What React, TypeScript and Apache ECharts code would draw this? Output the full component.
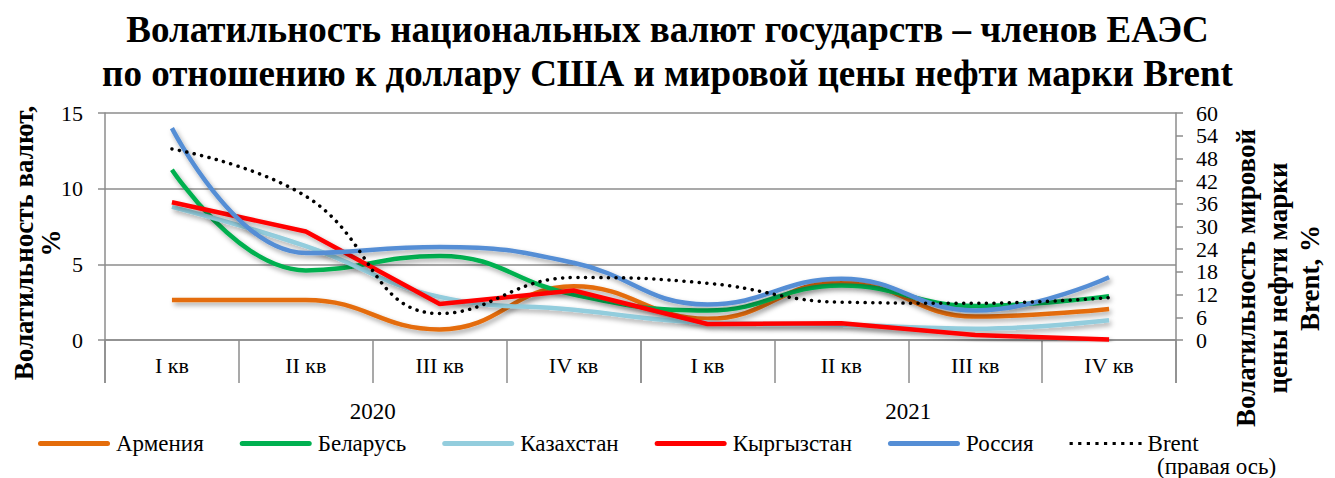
import React, { useEffect, useRef } from "react";
import * as echarts from "echarts";

const quarters = ["I кв", "II кв", "III кв", "IV кв", "I кв", "II кв", "III кв", "IV кв"];
const years = ["2020", "2021"];

const armenia = [2.65, 2.65, 0.7, 3.55, 1.4, 3.85, 1.55, 2.05];
const belarus = [11.25, 4.6, 5.55, 3.0, 1.95, 3.6, 2.25, 2.9];
const kazakhstan = [8.8, 6.2, 2.85, 2.0, 1.15, 1.0, 0.75, 1.3];
const kyrgyzstan = [9.1, 7.17, 2.38, 3.27, 1.06, 1.1, 0.33, 0.04];
const russia = [14.0, 5.75, 6.15, 5.1, 2.35, 4.05, 1.95, 4.15];
const brent = [50.5, 38, 7, 16.5, 15, 10, 9.7, 11.2];

const leftTicks = { min: 0, max: 15, interval: 5 };
const rightTicks = { min: 0, max: 60, interval: 6 };

const FONT = "Liberation Serif";
const GRAY = "#8c8c8c";

const COLORS = {
  armenia: "#E46C0A",
  belarus: "#00B050",
  kazakhstan: "#93CDDD",
  kyrgyzstan: "#FF0000",
  russia: "#558ED5",
  brent: "#000000",
};

const BAR_ICON = "path://M2.5,0H69.5A2.5,2.5 0 0 1 69.5,5H2.5A2.5,2.5 0 0 1 2.5,0Z";
const DOT_ICON =
  "path://" +
  Array.from({ length: 9 }, (_, i) => {
    const cx = 1.6 + i * 8.6;
    return `M${(cx - 1.6).toFixed(2)},0H${(cx + 1.6).toFixed(2)}V3.2H${(cx - 1.6).toFixed(2)}Z`;
  }).join("");

export default function App() {
  const ref = useRef<HTMLDivElement>(null);
  useEffect(() => {
    if (!ref.current) return;
    const chart = echarts.init(ref.current, undefined, { renderer: "svg" });
    const shadow = {
      shadowColor: "rgba(0,0,0,0.35)",
      shadowBlur: 5,
      shadowOffsetX: 2,
      shadowOffsetY: 3,
    };
    const mk = (name: string, data: number[], color: string, smooth: boolean | number) => ({
      name,
      type: "line",
      data,
      xAxisIndex: 0,
      yAxisIndex: 0,
      smooth,
      symbol: "none",
      lineStyle: { color, width: 4.5, ...shadow },
      itemStyle: { color },
    });
    chart.setOption({
      animation: false,
      textStyle: { fontFamily: FONT, color: "#000" },
      title: {
        text: "Волатильность национальных валют государств – членов ЕАЭС\nпо отношению к доллару США и мировой цены нефти марки Brent",
        left: "center",
        top: 2,
        textStyle: { fontFamily: FONT, fontSize: 37, fontWeight: "bold", color: "#000", lineHeight: 44 },
      },
      grid: { left: 105, right: 159, top: 113, bottom: 138, containLabel: false },
      legend: {
        left: 33,
        top: 427,
        itemWidth: 72,
        itemHeight: 5,
        itemGap: 36,
        textStyle: { fontFamily: FONT, fontSize: 23, color: "#000", padding: [5, 0, 0, 1] },
        data: [
          { name: "Армения", icon: BAR_ICON, itemStyle: { color: COLORS.armenia } },
          { name: "Беларусь", icon: BAR_ICON, itemStyle: { color: COLORS.belarus } },
          { name: "Казахстан", icon: BAR_ICON, itemStyle: { color: COLORS.kazakhstan } },
          { name: "Кыргызстан", icon: BAR_ICON, itemStyle: { color: COLORS.kyrgyzstan } },
          { name: "Россия", icon: BAR_ICON, itemStyle: { color: COLORS.russia } },
          { name: "Brent", icon: DOT_ICON, itemStyle: { color: COLORS.brent } },
        ],
      },
      xAxis: [
        {
          type: "category",
          data: quarters,
          position: "bottom",
          boundaryGap: true,
          axisLine: { show: true, lineStyle: { color: GRAY, width: 1.5 } },
          axisTick: { show: true, interval: 0, length: 43, lineStyle: { color: GRAY, width: 1.5 } },
          axisLabel: { interval: 0, margin: 14, fontFamily: FONT, fontSize: 22, color: "#000" },
          splitLine: { show: false },
        },
        {
          type: "category",
          data: years,
          position: "bottom",
          offset: 43,
          boundaryGap: true,
          axisLine: { show: false },
          axisTick: { show: true, interval: 0, length: 43, lineStyle: { color: GRAY, width: 1.5 } },
          axisLabel: { interval: 0, margin: 17, fontFamily: FONT, fontSize: 23, color: "#000" },
          splitLine: { show: false },
        },
      ],
      yAxis: [
        {
          type: "value",
          ...leftTicks,
          position: "left",
          axisLine: { show: true, lineStyle: { color: GRAY, width: 1.5 } },
          axisTick: { show: true, length: 7, lineStyle: { color: GRAY, width: 1.5 } },
          axisLabel: { margin: 22, fontFamily: FONT, fontSize: 22, color: "#000" },
          splitLine: { show: true, lineStyle: { color: GRAY, width: 1.5 } },
        },
        {
          type: "value",
          ...rightTicks,
          position: "right",
          axisLine: { show: true, lineStyle: { color: GRAY, width: 1.5 } },
          axisTick: { show: true, length: 7, lineStyle: { color: GRAY, width: 1.5 } },
          axisLabel: { margin: 20, fontFamily: FONT, fontSize: 22, color: "#000" },
          splitLine: { show: false },
        },
      ],
      graphic: [
        {
          type: "text",
          x: 37,
          y: 243,
          rotation: Math.PI / 2,
          style: {
            text: "Волатильность валют,\n%",
            fontFamily: FONT,
            fontSize: 27,
            fontWeight: "bold",
            lineHeight: 27,
            fill: "#000",
            align: "center",
            verticalAlign: "middle",
          },
        },
        {
          type: "text",
          x: 1278,
          y: 278,
          rotation: Math.PI / 2,
          style: {
            text: "Волатильность мировой\nцены нефти марки\nBrent, %",
            fontFamily: FONT,
            fontSize: 27,
            fontWeight: "bold",
            lineHeight: 32,
            fill: "#000",
            align: "center",
            verticalAlign: "middle",
          },
        },
        {
          type: "text",
          x: 1157,
          y: 466,
          style: {
            text: "(правая ось)",
            fontFamily: FONT,
            fontSize: 23,
            fill: "#000",
            align: "left",
            verticalAlign: "middle",
          },
        },
      ],
      series: [
        mk("Армения", armenia, COLORS.armenia, 0.45),
        mk("Беларусь", belarus, COLORS.belarus, 0.45),
        mk("Казахстан", kazakhstan, COLORS.kazakhstan, 0.45),
        mk("Кыргызстан", kyrgyzstan, COLORS.kyrgyzstan, false),
        mk("Россия", russia, COLORS.russia, 0.45),
        {
          name: "Brent",
          type: "line",
          data: brent,
          xAxisIndex: 0,
          yAxisIndex: 1,
          smooth: 0.45,
          symbol: "none",
          lineStyle: { color: COLORS.brent, width: 3.5, type: [0.1, 7.5], cap: "round" },
          itemStyle: { color: COLORS.brent },
        },
      ],
    });
    return () => chart.dispose();
  }, []);
  return (
    <div
      ref={ref}
      style={{ position: "fixed", left: 0, top: 0, width: 1335, height: 478, background: "#fff" }}
    />
  );
}
